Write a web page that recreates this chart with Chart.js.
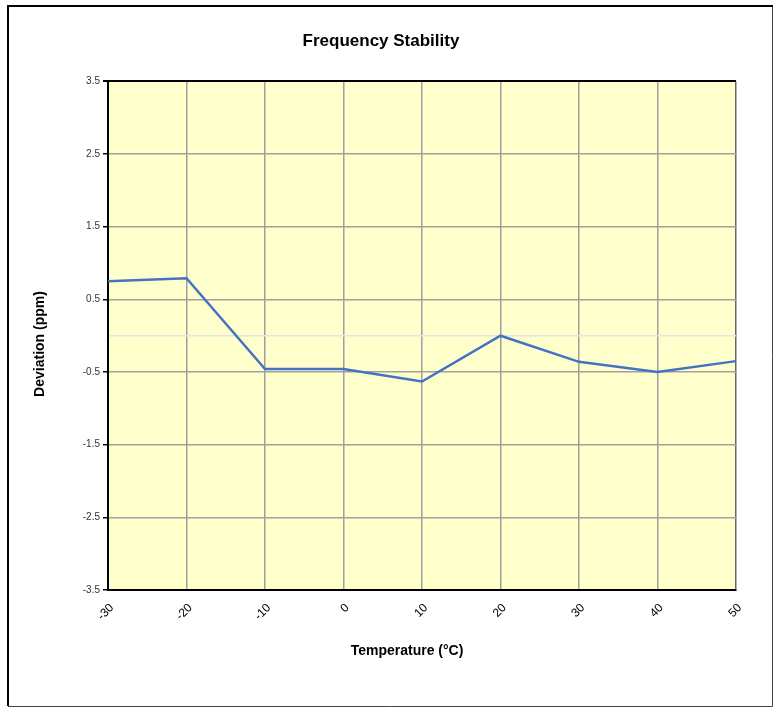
<!DOCTYPE html>
<html>
<head>
<meta charset="utf-8">
<script src="https://cdn.jsdelivr.net/npm/chart.js@4.4.1/dist/chart.umd.min.js"></script>
<style>
    html, body { margin: 0; padding: 0; background: #fff; }
    canvas { display: block; }
</style>
</head>
<body>
<canvas id="chart" width="775" height="708"></canvas>
<script>
const temperatures = [-30, -20, -10, 0, 10, 20, 30, 40, 50];
const deviation    = [0.75, 0.79, -0.46, -0.46, -0.63, 0.0, -0.36, -0.50, -0.35];
const yTicks       = [-3.5, -2.5, -1.5, -0.5, 0, 0.5, 1.5, 2.5, 3.5];

const FONT = "'Liberation Sans', Arial, sans-serif";

// white page, outer frame and yellow plot area
const backdrop = {
    id: 'backdrop',
    beforeDraw(chart) {
        const ctx = chart.ctx;
        const a = chart.chartArea;
        ctx.save();
        ctx.fillStyle = '#fff';
        ctx.fillRect(0, 0, chart.width, chart.height);
        ctx.strokeStyle = '#444';
        ctx.lineWidth = 1;
        ctx.beginPath();
        ctx.moveTo(772.5, 6); ctx.lineTo(772.5, 706.5);
        ctx.lineTo(8, 706.5);
        ctx.stroke();
        ctx.strokeStyle = '#000';
        ctx.lineWidth = 2;
        ctx.beginPath();
        ctx.moveTo(8, 706); ctx.lineTo(8, 6); ctx.lineTo(773, 6);
        ctx.stroke();
        ctx.fillStyle = '#ffffcc';
        ctx.fillRect(a.left, a.top, a.right - a.left, a.bottom - a.top);
        ctx.restore();
    }
};

// rotated x tick labels centred under their ticks, and the two axis titles
const axisText = {
    id: 'axisText',
    afterDraw(chart) {
        const ctx = chart.ctx;
        const x = chart.scales.x;
        ctx.save();
        ctx.font = '12px ' + FONT;
        ctx.fillStyle = '#000';
        ctx.textAlign = 'right';
        ctx.textBaseline = 'middle';
        x.ticks.forEach((t, i) => {
            const px = x.getPixelForTick(i);
            ctx.save();
            ctx.translate(px + 4, x.top + 16);
            ctx.rotate(-Math.PI / 4);
            ctx.fillText(String(temperatures[i]), 0, 0);
            ctx.restore();
        });

        ctx.font = 'bold 14px ' + FONT;
        ctx.textAlign = 'center';
        ctx.fillText('Temperature (°C)', 407, 651);
        ctx.translate(40, 344);
        ctx.rotate(-Math.PI / 2);
        ctx.fillText('Deviation (ppm)', 0, 0);
        ctx.restore();
    }
};

new Chart(document.getElementById('chart'), {
    type: 'line',
    data: {
        labels: temperatures,
        datasets: [{
            data: deviation,
            borderColor: '#4472c4',
            borderWidth: 2.5,
            pointRadius: 0,
            tension: 0,
            fill: false
        }]
    },
    options: {
        responsive: false,
        animation: false,
        layout: { padding: { left: 26, right: 39, top: 0, bottom: 0 } },
        plugins: {
            legend: { display: false },
            tooltip: { enabled: false },
            title: {
                display: true,
                text: 'Frequency Stability',
                color: '#000',
                font: { family: FONT, size: 17, weight: 'bold' },
                padding: { top: 31, bottom: 30 }
            }
        },
        scales: {
            x: {
                type: 'category',
                offset: false,
                ticks: { display: false },
                grid: {
                    color: ctx => ctx.index === temperatures.length - 1 ? '#666' : '#a0a0a0',
                    lineWidth: 1.5,
                    drawTicks: false
                },
                border: { color: '#000', width: 2 },
                afterFit: s => { s.height = 118; }
            },
            y: {
                min: -3.5,
                max: 3.5,
                afterBuildTicks: s => { s.ticks = yTicks.map(v => ({ value: v })); },
                ticks: {
                    color: '#333',
                    font: { family: FONT, size: 10 },
                    padding: 3,
                    callback: v => v === 0 ? '' : String(v)
                },
                grid: {
                    color: ctx => ctx.tick.value === 3.5 ? '#000' : (ctx.tick.value === 0 ? '#e4e4e4' : '#a0a0a0'),
                    tickColor: ctx => ctx.tick.value === 0 ? 'rgba(0,0,0,0)' : '#000',
                    lineWidth: ctx => ctx.tick.value === 3.5 ? 2 : 1.5,
                    tickLength: 5
                },
                border: { color: '#000', width: 2 },
                afterFit: s => { s.width = 82; }
            }
        }
    },
    plugins: [backdrop, axisText]
});
</script>
</body>
</html>
